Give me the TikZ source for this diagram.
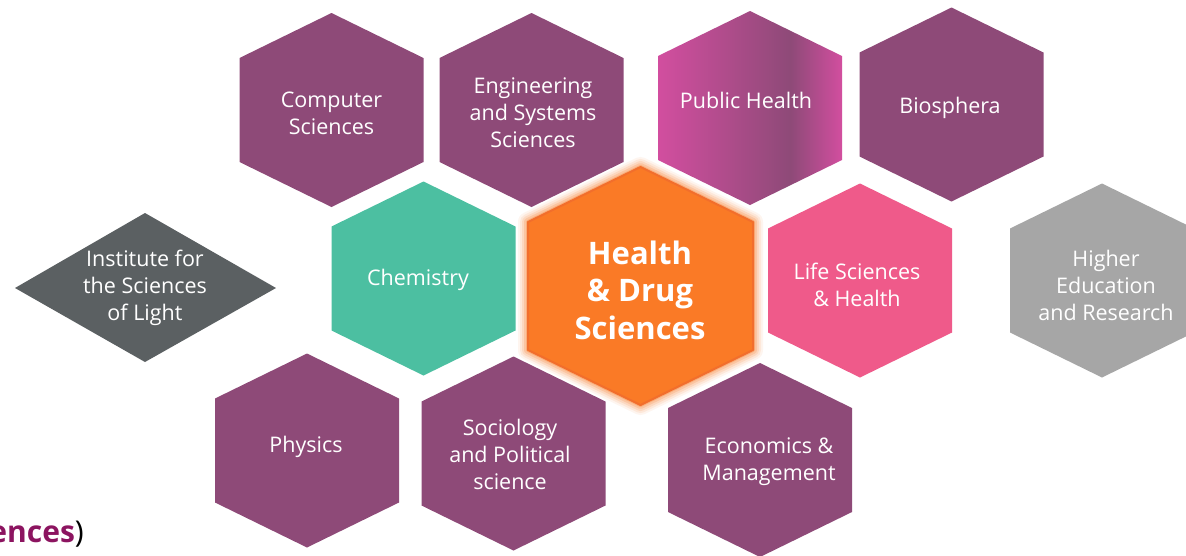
\documentclass[tikz,border=0pt]{standalone}
\usepackage{fontspec}
\setmainfont{Open Sans}
\definecolor{hexpurple}{HTML}{8E4A78}
\definecolor{phpink}{HTML}{D24E9F}
\definecolor{chemteal}{HTML}{4CBFA1}
\definecolor{lifepink}{HTML}{EF5A8A}
\definecolor{hdsorange}{HTML}{FA7A26}
\definecolor{hdsedge}{HTML}{F26E2C}
\definecolor{hergrey}{HTML}{A6A6A6}
\definecolor{isldark}{HTML}{5B6062}
\definecolor{cutmagenta}{HTML}{8C1460}
\pgfdeclarehorizontalshading{phshade}{100bp}{color(0bp)=(phpink); color(25bp)=(phpink); color(61bp)=(hexpurple); color(75bp)=(phpink); color(100bp)=(phpink)}
% #1 cx, #2 cy, #3 half width, #4 half height, #5 half side, #6 options
\newcommand{\hexshape}[6]{%
  \path[#6, shift={(#1,#2)}] (0,-#4) -- (#3,-#5) -- (#3,#5) -- (0,#4) -- (-#3,#5) -- (-#3,-#5) -- cycle;}
\begin{document}
\begin{tikzpicture}[x=1pt,y=-1pt,
  lbl/.style={text=white, align=center, inner sep=0pt,
    font=\fontsize{21.5}{27}\selectfont},
  biglbl/.style={text=white, align=center, inner sep=0pt,
    font=\fontsize{31}{37.5}\selectfont\bfseries}]
\useasboundingbox (0,0) rectangle (1186,555);
\clip (0,0) rectangle (1186,555);
\fill[white] (0,0) rectangle (1186,555);

% top row
\hexshape{331.5}{110}{92}{97}{52}{fill=hexpurple}
\hexshape{531.5}{110}{92}{97}{52}{fill=hexpurple}
\hexshape{750}{108}{92}{97}{52}{shading=phshade}
\hexshape{951.5}{104.5}{92}{97}{52}{fill=hexpurple}
% middle row
\hexshape{423.5}{278.5}{92}{97}{52}{fill=chemteal}
\hexshape{860}{280.5}{92}{97}{52}{fill=lifepink}
\hexshape{1102}{280.5}{92}{97}{52}{fill=hergrey}
% bottom row
\hexshape{307}{450.5}{92}{97}{52}{fill=hexpurple}
\hexshape{513.5}{453.5}{92}{97}{52}{fill=hexpurple}
\hexshape{760}{460}{92}{97}{52}{fill=hexpurple}
% diamond
\path[fill=isldark] (145,213) -- (276,288) -- (145,362) -- (15,288) -- cycle;

% central hexagon with glow
\foreach \w/\o in {20/0.07, 16/0.10, 12/0.14, 8/0.2, 4/0.3}{
  \hexshape{640.5}{286}{112.5}{119}{64}{draw=hdsorange, line width=\w pt, opacity=\o, line join=round}
}
\hexshape{640.5}{286}{112.5}{119}{64}{fill=hdsorange, draw=hdsedge, line width=2pt, line join=round}

% labels
\node[lbl] (cs) at (331.5,113.5) {Computer\\Sciences};
\node[lbl] (eng) at (533,112.5) {Engineering\\and Systems\\Sciences};
\node[lbl] (ph) at (746,100.5) {Public Health};
\node[lbl] (bio) at (950,107.5) {Biosphera};
\node[lbl] (chem) at (418,280) {Chemistry};
\node[lbl] (life) at (857,285) {Life Sciences\\\& Health};
\node[lbl] (her) at (1106,285) {Higher\\Education\\and Research};
\node[lbl] (phys) at (306,447) {Physics};
\node[lbl] (soc) at (510,454) {Sociology\\and Political\\science};
\node[lbl] (eco) at (769,461.5) {Economics \&\\Management};
\node[lbl] (isl) at (145,288) {Institute for\\the Sciences\\of Light};
\node[biglbl] (hds) at (640,290) {Health\\\& Drug\\Sciences};

% clipped text at bottom left
\node[anchor=base east, inner sep=0pt, font=\fontsize{30}{36}\selectfont] (cut) at (84,542)
  {\textbf{\color{cutmagenta}ences})};
\end{tikzpicture}
\end{document}
